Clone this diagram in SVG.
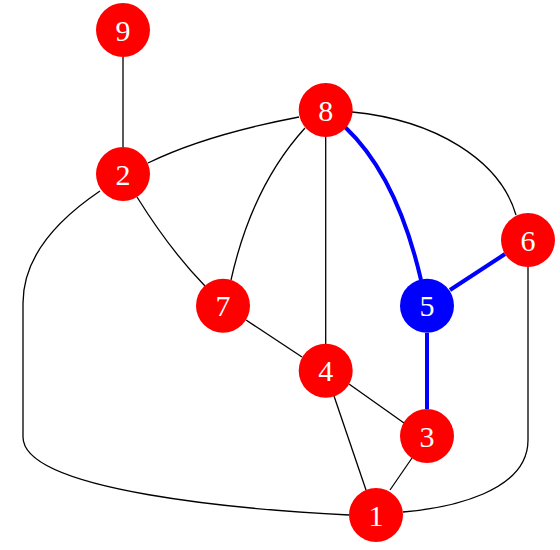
<svg xmlns="http://www.w3.org/2000/svg" width="560" height="550" viewBox="0 0 560 550">
<style>
.e{fill:none;stroke:#000;stroke-width:1.3}
.b{fill:none;stroke:#0000ff;stroke-width:4}
.n{fill:#ff0000}
.nb{fill:#0000ff}
.t{font-family:"Liberation Serif",serif;font-size:30px;fill:#fff;text-anchor:middle}
</style>
<rect width="560" height="550" fill="#fff"/>
<g id="edges">
<path class="e" d="M123,57 L123,147"/>
<path class="e" d="M148,163 Q205,135 299,117"/>
<path class="e" d="M305,128 C285,150 250,195 231,280"/>
<path class="e" d="M137,197 Q170,250 205,286"/>
<path class="e" d="M325.7,137 L325.7,344"/>
<path class="e" d="M352,112 C435,120 500,160 516,215"/>
<path class="e" d="M528,267 L528,440 C528,492 450,508 403,512"/>
<path class="e" d="M100,191 C60,218 23,255 23,303 L23,437 C23,492 250,510 349,515"/>
<path class="e" d="M246,320 L302,357"/>
<path class="e" d="M349,384 L404,423"/>
<path class="e" d="M334,396 L366,490"/>
<path class="e" d="M412,458 L390,490"/>
<path class="b" d="M345,127 Q397,176 421,280"/>
<path class="b" d="M505,254 L450,290"/>
<path class="b" d="M427,333 L427,409"/>
</g>
<g id="n9"><circle class="n" cx="123" cy="30" r="27"/><text class="t" x="123" y="40.5">9</text></g>
<g id="n2"><circle class="n" cx="123" cy="174" r="27"/><text class="t" x="123" y="184.5">2</text></g>
<g id="n8"><circle class="n" cx="325.7" cy="110" r="27"/><text class="t" x="325.7" y="120.5">8</text></g>
<g id="n6"><circle class="n" cx="528" cy="240" r="27"/><text class="t" x="528" y="250.5">6</text></g>
<g id="n7"><circle class="n" cx="223" cy="305.7" r="27"/><text class="t" x="223" y="316.2">7</text></g>
<g id="n5"><circle class="nb" cx="427" cy="305.7" r="27"/><text class="t" x="427" y="316.2">5</text></g>
<g id="n4"><circle class="n" cx="325.7" cy="370.7" r="27"/><text class="t" x="325.7" y="381.2">4</text></g>
<g id="n3"><circle class="n" cx="427" cy="436" r="27"/><text class="t" x="427" y="446.5">3</text></g>
<g id="n1"><circle class="n" cx="376" cy="515" r="27"/><text class="t" x="376" y="525.5">1</text></g>
</svg>
